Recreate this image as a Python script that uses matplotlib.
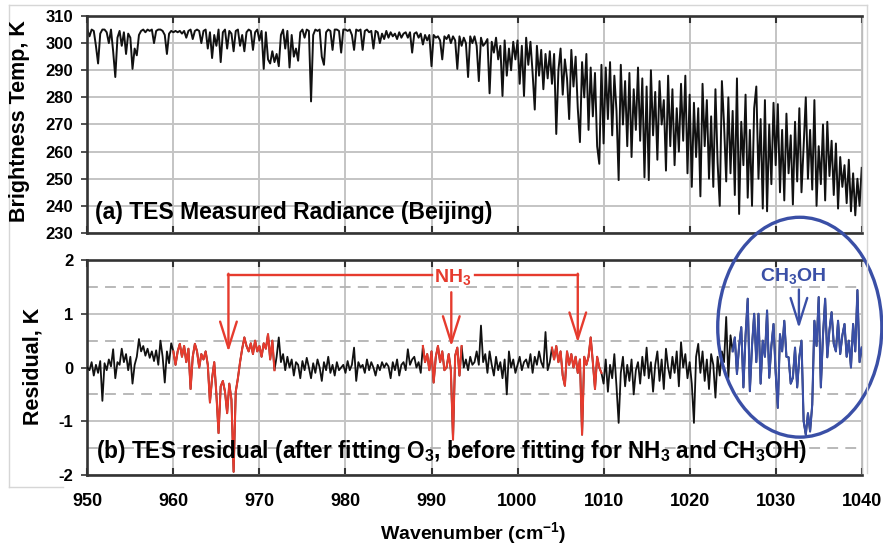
import numpy as np
import matplotlib
matplotlib.use("Agg")
import matplotlib.pyplot as plt
from matplotlib.patches import Ellipse
from matplotlib.lines import Line2D

plt.rcParams['font.family'] = ['Liberation Sans', 'DejaVu Sans']
plt.rcParams['font.weight'] = 'bold'
plt.rcParams['axes.unicode_minus'] = False
plt.rcParams['mathtext.fontset'] = 'custom'
plt.rcParams['mathtext.rm'] = 'Liberation Sans:bold'
plt.rcParams['mathtext.it'] = 'Liberation Sans:bold'
plt.rcParams['mathtext.bf'] = 'Liberation Sans:bold'

# brightness temperature (K), 0.25 cm-1 steps from 950 to 1040, one row per cm-1
tb = [
    305.0, 302.5, 305.0, 304.5,
    299.0, 292.5, 303.5, 305.0,
    305.0, 304.0, 300.0, 305.0,
    297.0, 287.5, 302.0, 304.5,
    299.0, 304.0, 296.0, 303.5,
    302.0, 290.5, 298.0, 295.5,
    303.0, 304.5, 305.0, 304.0,
    305.0, 304.5, 305.0, 300.0,
    304.5, 305.0, 305.0, 304.5,
    303.0, 296.0, 303.5, 304.5,
    304.0, 304.5, 304.0, 304.5,   # 960
    303.5, 304.5, 302.0, 304.5,
    305.0, 301.5, 304.5, 305.0,
    304.5, 300.0, 304.5, 305.0,
    298.0, 304.0, 294.5, 303.0,
    299.0, 305.0, 293.0, 304.0,
    305.0, 298.0, 304.5, 303.5,
    297.0, 304.5, 305.0, 299.0,
    303.0, 297.0, 304.0, 305.0,
    304.5, 297.5, 304.0, 305.0,
    301.0, 304.5, 290.5, 304.0,   # 970
    294.0, 292.5, 297.0, 293.0,
    296.0, 291.5, 303.0, 305.0,
    298.0, 304.5, 291.0, 303.0,
    295.0, 298.0, 293.5, 304.0,
    305.0, 302.0, 305.0, 304.5,
    278.5, 303.0, 305.0, 304.5,
    305.0, 295.0, 292.0, 304.0,
    305.0, 304.5, 297.5, 305.0,
    305.0, 304.5, 296.5, 305.0,
    305.0, 304.5, 305.0, 303.0,   # 980
    297.5, 305.0, 304.5, 305.0,
    297.5, 304.5, 305.0, 304.0,
    304.5, 298.0, 304.5, 304.0,
    300.0, 303.5, 301.5, 304.5,
    302.0, 304.0, 302.5, 303.5,
    301.5, 304.0, 302.0, 303.5,
    304.0, 302.0, 304.0, 296.5,
    303.5, 304.0, 302.0, 303.5,
    299.5, 303.0, 301.0, 303.0,
    291.5, 303.0, 302.0, 302.5,   # 990
    301.0, 294.0, 302.5, 301.5,
    303.0, 300.0, 302.5, 301.0,
    290.5, 302.5, 299.0, 302.0,
    300.0, 287.5, 302.5, 300.0,
    302.5, 299.0, 286.0, 302.0,
    299.0, 300.0, 301.5, 281.5,
    300.5, 296.5, 302.0, 294.0,
    299.0, 280.5, 301.0, 288.0,
    298.0, 290.0, 300.5, 294.0,
    301.0, 285.0, 299.0, 280.5,   # 1000
    302.0, 292.0, 300.5, 289.0,
    275.5, 299.0, 288.0, 297.5,
    283.0, 296.0, 287.0, 297.0,
    285.0, 296.0, 266.5, 290.0,
    298.0, 281.0, 294.0, 287.0,
    272.0, 297.5, 284.0, 295.0,
    276.0, 263.5, 293.0, 280.0,
    296.0, 268.0, 291.0, 273.0,
    289.0, 262.0, 255.5, 292.0,
    263.0, 291.0, 272.0, 293.0,   # 1010
    266.0, 288.0, 275.0, 249.5,
    292.0, 270.0, 286.0, 262.0,
    289.0, 258.0, 283.0, 268.0,
    291.0, 264.0, 287.0, 250.5,
    284.0, 249.5, 290.0, 266.0,
    282.0, 257.0, 286.0, 270.0,
    279.0, 253.0, 288.0, 262.0,
    283.0, 255.0, 276.0, 260.0,
    285.0, 264.0, 288.0, 252.0,
    281.0, 247.0, 278.0, 258.0,   # 1020
    276.0, 243.5, 285.0, 262.0,
    279.0, 250.0, 273.0, 247.0,
    283.0, 256.0, 240.0, 286.0,
    270.0, 249.0, 280.0, 252.0,
    275.0, 244.0, 287.0, 237.0,
    271.0, 255.0, 281.0, 243.0,
    268.0, 240.0, 276.0, 284.0,
    250.0, 272.0, 239.0, 279.0,
    238.0, 270.0, 248.0, 278.0,
    255.0, 277.5, 245.0, 268.0,   # 1030
    242.0, 274.0, 252.0, 266.0,
    240.5, 271.0, 249.0, 276.0,
    245.0, 262.0, 280.0, 250.0,
    268.0, 246.0, 279.0, 240.0,
    262.0, 248.0, 270.0, 242.0,
    271.0, 251.0, 264.0, 244.0,
    263.0, 239.0, 258.0, 247.0,
    255.0, 241.0, 257.0, 238.0,
    252.0, 236.5, 250.0, 240.0,
    254.0,                        # 1040
]

# residual (K), same grid
resid = [
    0.00, -0.05, 0.10, -0.15,
    0.05, -0.10, 0.12, -0.62,
    0.08, -0.05, 0.15, 0.02,
    0.34, -0.20, 0.10, 0.05,
    0.35, 0.10, 0.25, -0.05,
    0.20, -0.30, 0.05, 0.20,
    0.53, 0.30, 0.40, 0.22,
    0.35, 0.18, 0.30, 0.12,
    0.32, 0.05, 0.50, 0.20,
    -0.28, 0.30, 0.08, 0.45,
    0.30, 0.05, 0.30, 0.44,     # 960
    0.20, 0.40, 0.10, 0.35,
    -0.40, 0.20, 0.44, 0.30,
    0.00, 0.25, 0.15, 0.30,
    0.05, -0.65, -0.20, 0.10,
    -0.50, -1.22, -0.35, -0.25,
    -0.45, -0.85, -0.30, -0.60,
    -1.94, -0.45, -0.20, 0.10,
    0.35, 0.56, 0.40, 0.30,
    0.45, 0.25, 0.50, 0.30,
    0.40, 0.20, 0.45, 0.35,     # 970
    0.62, 0.15, 0.50, -0.05,
    0.20, 0.56, 0.10, 0.25,
    -0.05, 0.20, 0.00, 0.15,
    -0.15, 0.10, 0.05, -0.20,
    0.12, -0.05, 0.18, 0.00,
    -0.20, 0.08, -0.10, 0.15,
    0.00, -0.25, 0.10, -0.05,
    0.20, -0.10, 0.05, -0.15,
    0.10, -0.05, 0.00, 0.05,
    -0.10, 0.12, -0.05, 0.05,   # 980
    0.37, -0.25, 0.10, 0.00,
    0.05, -0.10, 0.15, -0.05,
    0.10, 0.00, -0.15, 0.05,
    -0.05, 0.10, 0.00, 0.08,
    0.02, -0.20, 0.10, -0.05,
    0.15, -0.15, 0.05, 0.10,
    -0.05, 0.34, 0.05, 0.15,
    0.20, 0.00, 0.10, -0.10,
    0.40, 0.10, 0.25, -0.05,
    0.30, -0.28, 0.20, 0.40,    # 990
    0.10, 0.30, -0.05, 0.00,
    0.25, -0.05, -1.34, 0.22,
    0.37, -0.15, 0.40, 0.00,
    0.15, -0.05, 0.20, 0.05,
    0.10, 0.30, 0.05, 0.78,
    0.10, 0.25, -0.10, 0.30,
    0.05, -0.15, 0.20, -0.05,
    0.10, -0.20, 0.15, -0.50,
    0.30, 0.00, 0.15, -0.10,
    0.05, 0.20, -0.05, 0.10,    # 1000
    0.15, 0.00, 0.25, -0.10,
    0.20, 0.05, 0.30, 0.10,
    0.00, 0.66, -0.05, 0.10,
    0.37, 0.15, 0.40, 0.10,
    0.30, -0.15, -0.34, 0.30,
    0.05, 0.25, 0.00, 0.20,
    -0.10, 0.15, -1.25, 0.20,
    0.05, 0.20, 0.56, 0.10,
    -0.40, 0.20, 0.00, -0.10,
    -0.30, 0.15, -0.45, 0.05,   # 1010
    -0.20, 0.25, -0.35, -1.03,
    -0.10, 0.20, -0.35, 0.05,
    -0.25, 0.15, -0.50, -0.05,
    0.10, -0.30, 0.20, -0.15,
    0.37, -0.20, 0.10, -0.45,
    0.05, 0.30, -0.25, 0.15,
    -0.40, 0.35, 0.00, -0.20,
    0.20, -0.10, 0.30, -0.35,
    0.47, 0.00, 0.25, -0.20,
    0.10, -0.30, -1.03, 0.20,   # 1020
    0.44, -0.10, 0.30, -0.25,
    0.15, -0.40, 0.25, 0.05,
    -0.56, 0.20, -0.15, 0.30,
    0.10, 0.94, -0.20, 0.60,
    0.30, 0.56, -0.12, 0.40,
    0.75, -0.37, 0.60, 1.28,
    -0.44, 0.40, 1.00, 0.10,
    1.00, -0.30, 0.50, 0.20,
    1.06, -0.19, 0.40, 0.81,
    -0.10, -0.75, 0.62, 0.30,   # 1030
    0.87, 0.20, 0.19, -0.30,
    -0.19, 0.37, -0.37, 0.20,
    0.50, -1.00, -1.25, -0.85,
    -1.19, -0.69, 0.87, 0.40,
    1.31, -0.37, 0.60, 1.28,
    0.19, 0.70, 1.03, 0.44,
    0.30, 0.87, 0.25, 0.60,
    0.81, 0.20, 0.50, 0.00,
    0.81, 0.30, 1.44, 0.10,
    0.37,                       # 1040
]

tb = np.array(tb)
resid = np.array(resid)
wn = np.linspace(950, 1040, len(tb))
wn_r = np.linspace(950, 1040, len(resid))

nh3_spans = [(960, 971.75), (989, 993.5), (1004, 1009.75)]
ch3oh_span = (1025, 1040)

red = '#e63b2e'
blue = '#3a4fa6'
spine_c = '#333333'
grid_c = '#c4c4c4'

fig = plt.figure(figsize=(8.83, 5.46), dpi=100)
ax1 = fig.add_axes([0.0989, 0.5733, 0.877, 0.3974])
ax2 = fig.add_axes([0.0989, 0.1300, 0.877, 0.3938])

for ax in (ax1, ax2):
    ax.set_xlim(950, 1040)
    ax.set_xticks(np.arange(950, 1041, 10))
    ax.grid(True, color=grid_c, lw=1.4)
    ax.set_axisbelow(True)
    for s in ('top', 'left', 'bottom'):
        ax.spines[s].set_color(spine_c)
        ax.spines[s].set_linewidth(1.9)
    ax.spines['right'].set_color('#bbbbbb')
    ax.spines['right'].set_linewidth(1.0)
    ax.tick_params(axis='x', direction='in', length=5, width=1.5, top=True,
                   color=spine_c, labelsize=13, pad=13)
    ax.tick_params(axis='y', direction='out', length=4, width=1.2,
                   color=spine_c, labelsize=12, pad=6)

# (a) measured spectrum
ax1.plot(wn, tb, color='#111111', lw=1.4)
ax1.set_ylim(230, 310)
ax1.set_yticks(np.arange(230, 311, 10))
ax1.tick_params(axis='x', labelbottom=False)
ax1.text(950.9, 237.4, '(a) TES Measured Radiance (Beijing)', fontsize=16.5,
         fontweight='bold', ha='left', va='center')

# (b) residual
ax2.plot(wn_r, resid, color='#111111', lw=1.3, zorder=3)
for lo, hi in nh3_spans:
    m = (wn_r >= lo) & (wn_r <= hi)
    ax2.plot(wn_r[m], resid[m], color=red, lw=1.5, zorder=4)
m = (wn_r >= ch3oh_span[0]) & (wn_r <= ch3oh_span[1])
ax2.plot(wn_r[m], resid[m], color=blue, lw=1.5, zorder=4)

ax2.set_ylim(-2, 2)
ax2.set_yticks([-2, -1, 0, 1, 2])
for yy in (-1.5, -0.5, 0.5, 1.5):
    ax2.axhline(yy, color='#b3b3b3', lw=1.3, ls=(0, (6, 4)), zorder=1)

ax2.text(951.0, -1.57,
         '(b) TES residual (after fitting O$_3$, before fitting for NH$_3$ and CH$_3$OH)',
         fontsize=16.3, fontweight='bold', ha='left', va='center', zorder=6)

# NH3 bracket and arrows
bracket_y = 1.73
ax2.plot([966.4, 990.1], [bracket_y, bracket_y], color=red, lw=1.7, zorder=5)
ax2.plot([995.0, 1007.0], [bracket_y, bracket_y], color=red, lw=1.7, zorder=5)
arr = dict(arrowstyle='->,head_length=1.9,head_width=0.6', color=red, lw=1.7,
           mutation_scale=10, shrinkA=0, shrinkB=0)
ax2.annotate('', xy=(966.4, 0.29), xytext=(966.4, bracket_y + 0.015), arrowprops=arr, zorder=5)
ax2.annotate('', xy=(1007.0, 0.46), xytext=(1007.0, bracket_y + 0.015), arrowprops=arr, zorder=5)
ax2.annotate('', xy=(992.3, 0.39), xytext=(992.3, 1.40), arrowprops=arr, zorder=5)
ax2.text(992.5, 1.68, 'NH$_3$', color=red, fontsize=14, fontweight='bold',
         ha='center', va='center', zorder=6)

# CH3OH circle and arrow
ax2.add_patch(Ellipse((1032.8, 0.75), 19.07, 4.09, fill=False, ec=blue, lw=2.4,
                      clip_on=False, zorder=7))
arr_b = dict(arr, color=blue)
ax2.annotate('', xy=(1032.7, 0.73), xytext=(1032.7, 1.45), arrowprops=arr_b, zorder=5)
ax2.text(1032.0, 1.70, 'CH$_3$OH', color=blue, fontsize=14, fontweight='bold',
         ha='center', va='center', zorder=6)

# axis labels
fig.text(0.0226, 0.7775, 'Brightness Temp, K', rotation=90, fontsize=15.5,
         fontweight='bold', ha='center', va='center')
fig.text(0.0374, 0.3297, 'Residual, K', rotation=90, fontsize=15.5,
         fontweight='bold', ha='center', va='center')
fig.text(0.536, 0.024, 'Wavenumber (cm$^{-1}$)', fontsize=14,
         fontweight='bold', ha='center', va='center')

# light chart-area frame
fc = '#d6d6d6'
fig.add_artist(Line2D([0.0102, 0.9819], [0.9908, 0.9908], color=fc, lw=1, transform=fig.transFigure))
fig.add_artist(Line2D([0.0102, 0.0102], [0.9908, 0.108], color=fc, lw=1, transform=fig.transFigure))
fig.add_artist(Line2D([0.9819, 0.9819], [0.9908, 0.1337], color=fc, lw=1, transform=fig.transFigure))
fig.add_artist(Line2D([0.0102, 0.0713], [0.108, 0.108], color=fc, lw=1, transform=fig.transFigure))

fig.savefig('out.png', dpi=100)
